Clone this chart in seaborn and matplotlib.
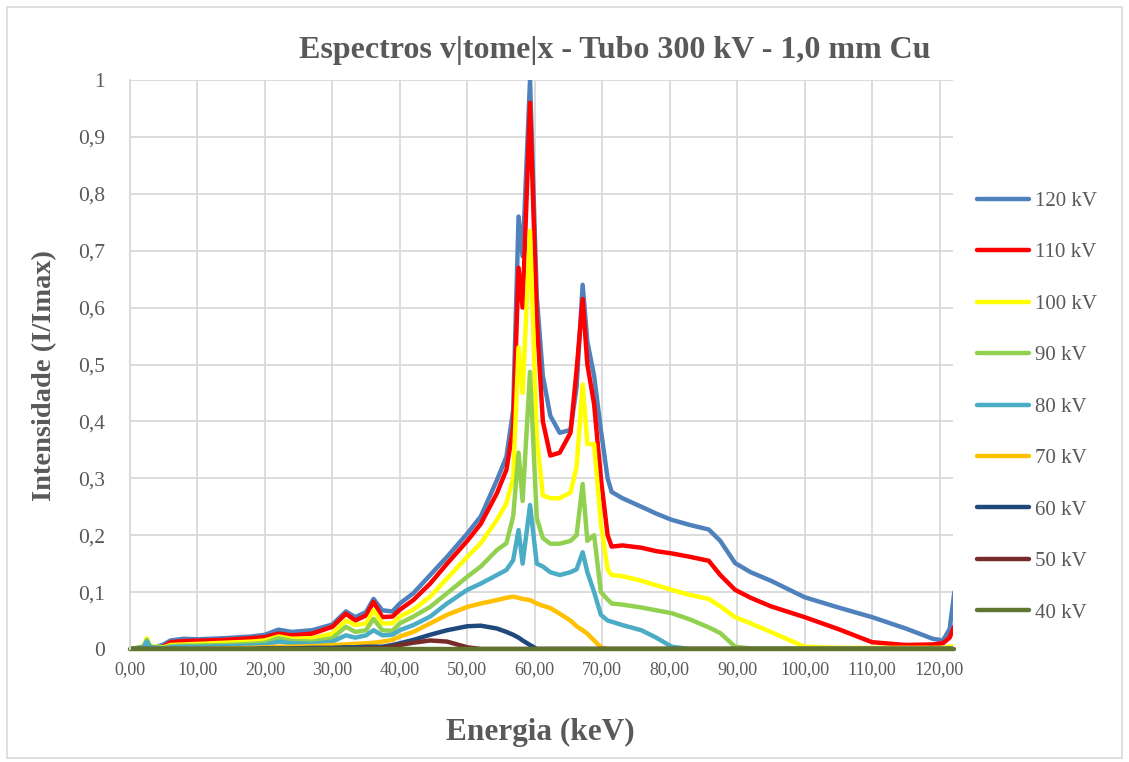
import matplotlib
matplotlib.use("Agg")
import matplotlib.pyplot as plt
from matplotlib.lines import Line2D
from matplotlib.patches import Rectangle
import seaborn as sns
import pandas as pd

sns.set_style("white")
plt.rcParams["font.family"] = ["Liberation Serif", "DejaVu Serif"]

# ---------------- data ----------------
energia_kev = [0, 2, 2.5, 3, 5, 6, 8, 10, 14, 18, 20, 22, 24, 27, 30, 32, 33.4, 35, 36.1, 37.4,
               38.9, 40, 42, 44.5, 47, 50, 52, 54.4, 55.8, 56.8, 57.6, 58.2, 59.3, 60.3, 61.2,
               62.3, 63.7, 65.3, 66.2, 67.1, 67.8, 68.8, 69.8, 70.8, 71.4, 73, 75.8, 78, 80.3,
               83, 85.8, 87.5, 89.7, 92, 95, 100, 105, 110, 115, 119, 120.5, 121.5, 122.2]

kv120 = [0, 0, 0.005, 0, 0.008, 0.015, 0.018, 0.017, 0.019, 0.022, 0.025, 0.034, 0.030, 0.033,
         0.043, 0.066, 0.056, 0.065, 0.088, 0.068, 0.066, 0.080, 0.098, 0.130, 0.162, 0.203,
         0.233, 0.297, 0.338, 0.420, 0.760, 0.690, 1.000, 0.620, 0.480, 0.410, 0.380, 0.385,
         0.460, 0.640, 0.540, 0.480, 0.385, 0.300, 0.276, 0.265, 0.250, 0.238, 0.227, 0.218,
         0.210, 0.190, 0.151, 0.135, 0.120, 0.091, 0.073, 0.056, 0.036, 0.018, 0.015, 0.035, 0.100]
kv110 = [0, 0, 0.004, 0, 0.004, 0.012, 0.014, 0.0145, 0.016, 0.019, 0.021, 0.027, 0.024, 0.027,
         0.039, 0.062, 0.050, 0.059, 0.083, 0.056, 0.057, 0.069, 0.086, 0.115, 0.150, 0.190,
         0.220, 0.274, 0.315, 0.390, 0.670, 0.600, 0.960, 0.580, 0.400, 0.340, 0.345, 0.380,
         0.490, 0.615, 0.500, 0.430, 0.300, 0.200, 0.180, 0.182, 0.178, 0.172, 0.168, 0.162,
         0.155, 0.130, 0.104, 0.090, 0.075, 0.056, 0.035, 0.012, 0.007, 0.008, 0.010, 0.020, 0.040]
kv100 = [0, 0.005, 0.019, 0.005, 0.003, 0.007, 0.008, 0.009, 0.011, 0.013, 0.015, 0.022, 0.018,
         0.019, 0.027, 0.050, 0.042, 0.045, 0.068, 0.045, 0.045, 0.057, 0.069, 0.092, 0.124,
         0.162, 0.186, 0.227, 0.256, 0.300, 0.530, 0.450, 0.735, 0.370, 0.270, 0.265, 0.265,
         0.275, 0.320, 0.465, 0.360, 0.360, 0.220, 0.140, 0.130, 0.128, 0.120, 0.112, 0.104,
         0.095, 0.088, 0.075, 0.056, 0.045, 0.030, 0.004, 0.002, 0.002, 0.002, 0.002, 0.002,
         0.004, 0.006]
kv90 = [0, 0.004, 0.016, 0.004, 0.002, 0.005, 0.006, 0.006, 0.007, 0.009, 0.011, 0.019, 0.014,
        0.013, 0.019, 0.039, 0.030, 0.033, 0.053, 0.033, 0.032, 0.045, 0.057, 0.074, 0.098,
        0.127, 0.145, 0.174, 0.186, 0.233, 0.345, 0.260, 0.487, 0.230, 0.195, 0.185, 0.185,
        0.190, 0.200, 0.290, 0.190, 0.200, 0.100, 0.087, 0.080, 0.078, 0.073, 0.068, 0.063,
        0.052, 0.038, 0.028, 0.004, 0.001, 0.001, 0.001, 0.001, 0.001, 0.001, 0.001, 0.001,
        0.001, 0.001]
kv80 = [0, 0.003, 0.013, 0.003, 0.001, 0.003, 0.004, 0.004, 0.005, 0.006, 0.007, 0.013, 0.010,
        0.009, 0.013, 0.024, 0.020, 0.024, 0.033, 0.024, 0.025, 0.033, 0.042, 0.057, 0.080,
        0.104, 0.115, 0.130, 0.139, 0.156, 0.209, 0.150, 0.253, 0.150, 0.145, 0.135, 0.130,
        0.135, 0.140, 0.170, 0.135, 0.100, 0.060, 0.050, 0.048, 0.042, 0.033, 0.020, 0.004,
        0, 0, 0, 0, 0, 0, 0, 0, 0, 0, 0, 0, 0, 0]
kv70 = [0, 0, 0, 0, 0, 0, 0, 0, 0.001, 0.002, 0.003, 0.004, 0.004, 0.005, 0.007, 0.008, 0.009,
        0.010, 0.011, 0.013, 0.016, 0.022, 0.030, 0.045, 0.060, 0.074, 0.080, 0.086, 0.090,
        0.092, 0.090, 0.088, 0.086, 0.080, 0.076, 0.072, 0.062, 0.050, 0.040, 0.033, 0.027,
        0.015, 0.003, 0, 0, 0, 0, 0, 0, 0, 0, 0, 0, 0, 0, 0, 0, 0, 0, 0, 0, 0, 0]
kv60 = [0, 0, 0, 0, 0, 0, 0, 0, 0, 0, 0.001, 0.001, 0.001, 0.002, 0.002, 0.003, 0.003, 0.004,
        0.004, 0.004, 0.007, 0.010, 0.016, 0.025, 0.033, 0.040, 0.041, 0.036, 0.030, 0.025,
        0.020, 0.015, 0.007, 0, 0, 0, 0, 0, 0, 0, 0, 0, 0, 0, 0, 0, 0, 0, 0, 0, 0, 0, 0, 0, 0,
        0, 0, 0, 0, 0, 0, 0, 0]
kv50 = [0, 0, 0, 0, 0, 0, 0, 0, 0, 0, 0, 0, 0, 0, 0, 0, 0, 0.001, 0.001, 0.002, 0.004, 0.007,
        0.011, 0.015, 0.013, 0.003, 0, 0, 0, 0, 0, 0, 0, 0, 0, 0, 0, 0, 0, 0, 0, 0, 0, 0, 0, 0,
        0, 0, 0, 0, 0, 0, 0, 0, 0, 0, 0, 0, 0, 0, 0, 0, 0]
kv40 = [0] * len(energia_kev)

series_labels = ["120 kV", "110 kV", "100 kV", "90 kV", "80 kV", "70 kV", "60 kV", "50 kV", "40 kV"]
series_values = [kv120, kv110, kv100, kv90, kv80, kv70, kv60, kv50, kv40]
series_colors = ["#4F81BD", "#FF0000", "#FFFF00", "#92D050", "#4BACC6",
                 "#FFC000", "#1F497D", "#772C2A", "#5F7530"]

x_ticks = [0, 10, 20, 30, 40, 50, 60, 70, 80, 90, 100, 110, 120]
x_tick_labels = ["0,00", "10,00", "20,00", "30,00", "40,00", "50,00", "60,00",
                 "70,00", "80,00", "90,00", "100,00", "110,00", "120,00"]
y_ticks = [0, 0.1, 0.2, 0.3, 0.4, 0.5, 0.6, 0.7, 0.8, 0.9, 1.0]
y_tick_labels = ["0", "0,1", "0,2", "0,3", "0,4", "0,5", "0,6", "0,7", "0,8", "0,9", "1"]

title = "Espectros v|tome|x - Tubo 300 kV - 1,0 mm Cu"
x_label = "Energia (keV)"
y_label = "Intensidade (I/Imax)"

# ---------------- build long table ----------------
rows = []
for lab, vals in zip(series_labels, series_values):
    for e, v in zip(energia_kev, vals):
        rows.append({"Energia": e, "Intensidade": v, "Serie": lab})
df = pd.DataFrame(rows)
palette = dict(zip(series_labels, series_colors))

W, H = 1129, 762
fig = plt.figure(figsize=(W / 100, H / 100), dpi=100)
fig.patch.set_facecolor("white")
ax = fig.add_axes([130 / W, 1 - 649 / H, (953 - 130) / W, (649 - 80) / H])

text_color = "#595959"
grid_color = "#D9D9D9"

sns.lineplot(data=df, x="Energia", y="Intensidade", hue="Serie", hue_order=series_labels,
             palette=palette, estimator=None, sort=False, linewidth=3.2, ax=ax, legend=False)
for ln in ax.lines:
    ln.set_solid_capstyle("round")
    ln.set_solid_joinstyle("round")
ax.lines[-1].set_clip_on(False)

ax.set_xlim(0, 122)
ax.set_ylim(0, 1)
ax.set_xticks(x_ticks)
ax.set_xticklabels(x_tick_labels, fontsize=13, color=text_color)
ax.set_yticks(y_ticks)
ax.set_yticklabels(y_tick_labels, fontsize=15.5, color=text_color)
ax.tick_params(axis="x", length=0, pad=9)
ax.tick_params(axis="y", length=0, pad=18)
ax.grid(True, color=grid_color, linewidth=1.3)
ax.set_axisbelow(True)
for side in ["top", "right", "bottom"]:
    ax.spines[side].set_visible(False)
ax.spines["left"].set_color(grid_color)
ax.spines["left"].set_linewidth(1.3)
ax.set_xlabel("")
ax.set_ylabel("")

fig.text(615 / W, 1 - 58 / H, title, ha="center", va="baseline", fontsize=23,
         fontweight="bold", color=text_color)
fig.text(540 / W, 1 - 732 / H, x_label, ha="center", va="center", fontsize=22.5,
         fontweight="bold", color=text_color)
fig.text(45 / W, 1 - 376 / H, y_label, ha="center", va="center", fontsize=20.5,
         fontweight="bold", color=text_color, rotation=90)

handles = [Line2D([0], [0], color=c, linewidth=3.2, solid_capstyle="round")
           for c in series_colors]
leg = fig.legend(handles, series_labels, loc="center left",
                 bbox_to_anchor=(977 / W, 1 - 407 / H), frameon=False,
                 fontsize=15, handlelength=2.5, handletextpad=0.3,
                 labelspacing=1.53, borderpad=0, borderaxespad=0)
for t in leg.get_texts():
    t.set_color(text_color)

fig.patches.append(Rectangle((7 / W, 4 / H), (1122 - 7) / W, (755 - 4) / H,
                             transform=fig.transFigure, fill=False,
                             edgecolor=grid_color, linewidth=1.2))

fig.savefig("out.png", dpi=100)
